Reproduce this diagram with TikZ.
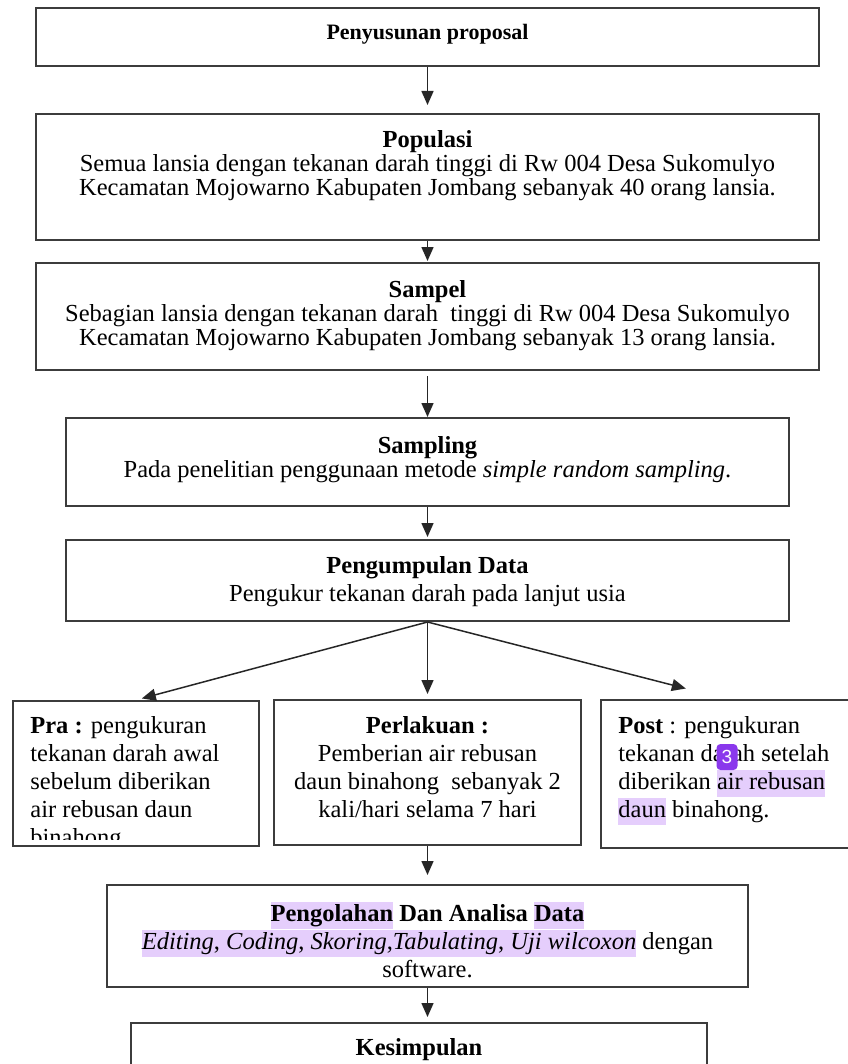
\documentclass[tikz,border=0pt]{standalone}
\usepackage{fontspec}
\setmainfont{Liberation Serif}
\newfontfamily\badgefont{Liberation Sans}
\usetikzlibrary{arrows.meta, positioning, calc}
\definecolor{frame}{RGB}{60,60,60}
\definecolor{marker}{RGB}{229,206,252}
\definecolor{badge}{RGB}{138,56,236}
\newcommand{\mk}[1]{{\setlength{\fboxsep}{0pt}\colorbox{marker}{\rule[-3.9pt]{0pt}{13.6pt}#1}}}

\begin{document}
\begin{tikzpicture}[x=0.5pt,y=-0.5pt,
    box/.style={draw=frame, line width=1pt, inner sep=0pt, fill=white},
    txt/.style={inner sep=0pt, align=center, font=\fontsize{12.25}{12}\selectfont},
    txtwide/.style={txt, font=\fontsize{12.25}{14}\selectfont},
    flow/.style={-{Triangle[length=7pt,width=6pt]}, line width=0.75pt, draw=black!85}]
    \useasboundingbox (0,0) rectangle (847,1064);
    % boxes
    \node[box, minimum width=391.5pt, minimum height=29pt] (prop) at (427.5,37) {};
    \node[box, minimum width=391.5pt, minimum height=63pt] (pop) at (427.5,177) {};
    \node[box, minimum width=391.5pt, minimum height=53.5pt] (samp) at (427.5,316.5) {};
    \node[box, minimum width=361.5pt, minimum height=44pt] (sampling) at (427.5,462) {};
    \node[box, minimum width=361.5pt, minimum height=40.5pt] (kumpul) at (427.5,580.5) {};
    \node[box, minimum width=123pt, minimum height=72.5pt] (pra) at (136,773.5) {};
    \node[box, minimum width=153.5pt, minimum height=72.5pt] (lakuan) at (427.5,772.5) {};
    \node[box, minimum width=125.5pt, minimum height=74pt] (post) at (726.5,774) {};
    \node[box, minimum width=320.5pt, minimum height=51pt] (olah) at (427.5,936) {};
    \node[box, minimum width=288pt, minimum height=40pt] (simpul) at (419,1063) {};
    % texts
    \node[txt, font=\fontsize{11}{12}\selectfont\bfseries] (proptxt) at (427.5,34) {Penyusunan proposal};
    \node[txt] (poptxt) at (427.5,166) {\textbf{Populasi}\\
        Semua lansia dengan tekanan darah tinggi di Rw 004 Desa Sukomulyo\\
        Kecamatan Mojowarno Kabupaten Jombang sebanyak 40 orang lansia.};
    \node[txt] (samptxt) at (427.5,315.5) {\textbf{Sampel}\\
        Sebagian lansia dengan tekanan darah~ tinggi di Rw 004 Desa Sukomulyo\\
        Kecamatan Mojowarno Kabupaten Jombang sebanyak 13 orang lansia.};
    \node[txt] (samplingtxt) at (427.5,460) {\textbf{Sampling}\\
        Pada penelitian penggunaan metode \textit{simple random sampling}.};
    \node[txtwide] (kumpultxt) at (427.5,582) {\textbf{Pengumpulan Data}\\
        Pengukur tekanan darah pada lanjut usia};
    \begin{scope}
        \clip (pra.north west) rectangle ([yshift=4pt]pra.south east);
        \node[txtwide, align=left, anchor=west] (pratxt) at (30,784) {\textbf{Pra :} pengukuran\\
            tekanan darah awal\\ sebelum diberikan\\ air rebusan daun\\ binahong};
    \end{scope}
    \node[txtwide] (lakuantxt) at (427.5,767.5) {\textbf{Perlakuan :}\\
        Pemberian air rebusan\\ daun binahong~ sebanyak 2\\ kali/hari selama 7 hari};
    \node[txtwide, align=left, anchor=west] (posttxt) at (618,771) {\textbf{Post} : pengukuran\\
        tekanan darah setelah\\ diberikan \mk{air rebusan}\\ \mk{daun} binahong.};
    \node[txtwide] (olahtxt) at (427.5,940) {\mk{\textbf{Pengolahan}} \textbf{Dan Analisa} \mk{\textbf{Data}}\\
        \mk{\textit{Editing}, \textit{Coding}, \textit{Skoring},\textit{Tabulating}, \textit{Uji wilcoxon}} dengan\\
        software.};
    \node[txt] (simpultxt) at (419,1050) {\textbf{Kesimpulan}};
    % review badge
    \node[fill=badge, rounded corners=2pt, minimum width=10.5pt, minimum height=13pt, inner sep=0pt,
        text=white, font=\badgefont\fontsize{9.5}{9.5}\selectfont] (tag) at (727,757) {3};
    % arrows
    \draw[flow, shorten >=4pt] (prop) -- (pop);
    \draw[flow, shorten >=0.5pt] (pop) -- (samp);
    \draw[flow, shorten <=2.5pt] (samp) -- (sampling);
    \draw[flow, shorten >=1pt] (sampling) -- (kumpul);
    \draw[flow, shorten >=3pt] (kumpul.south) -- (pra.north);
    \draw[flow, shorten >=2.5pt] (kumpul.south) -- (lakuan.north);
    \draw[flow, shorten >=21pt] (kumpul.south) -- (post.north);
    \draw[flow, shorten >=4.5pt] (lakuan) -- (olah);
    \draw[flow, shorten >=2.5pt] (olah.south) -- (olah.south |- simpul.north);
\end{tikzpicture}
\end{document}
